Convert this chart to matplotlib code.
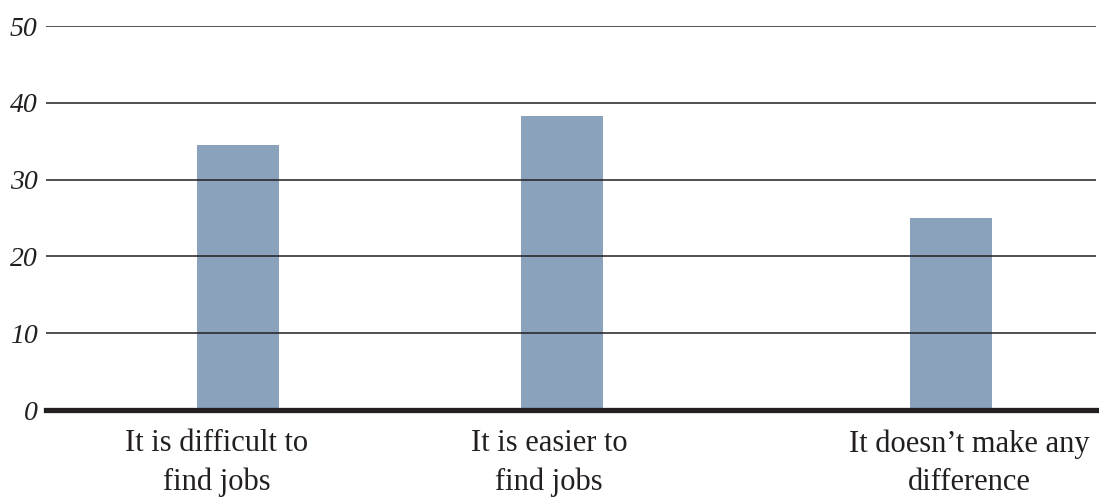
import matplotlib.pyplot as plt

# survey answers and shares (%)
categories = ['It is difficult to\nfind jobs', 'It is easier to\nfind jobs', 'It doesn\u2019t make any\ndifference']
values = [34.5, 38.3, 25.0]
yticks = [0, 10, 20, 30, 40, 50]

# layout (not data): bar centres and label centres along the x axis
bar_pos = [1.92, 5.16, 9.05]
label_pos = [1.71, 5.03, 9.23]

plt.rcParams['font.family'] = ['Liberation Serif', 'DejaVu Serif']

fig = plt.figure(figsize=(10.99, 4.98), dpi=100)
ax = fig.add_axes([46/1099, 88/498, 1050/1099, 384/498])

ax.bar(bar_pos, values, width=0.82, color='#8ba2bc', zorder=1)
for t in yticks[1:]:
    ax.axhline(t, color='#231f20', lw=1.1, zorder=2)
ax.axhline(0, color='#231f20', lw=3.8, zorder=3, clip_on=False)

ax.set_xlim(0, 10.5)
ax.set_ylim(0, 50)
ax.set_yticks(yticks)
ax.set_yticklabels([str(t) for t in yticks], fontsize=20, style='italic', color='#231f20')
ax.set_xticks(label_pos)
ax.set_xticklabels(categories, fontsize=22, color='#231f20', linespacing=1.42)
ax.tick_params(axis='y', length=0, pad=6)
ax.tick_params(axis='x', length=0, pad=14)
for s in ax.spines.values():
    s.set_visible(False)

fig.savefig('out.png', dpi=100)
